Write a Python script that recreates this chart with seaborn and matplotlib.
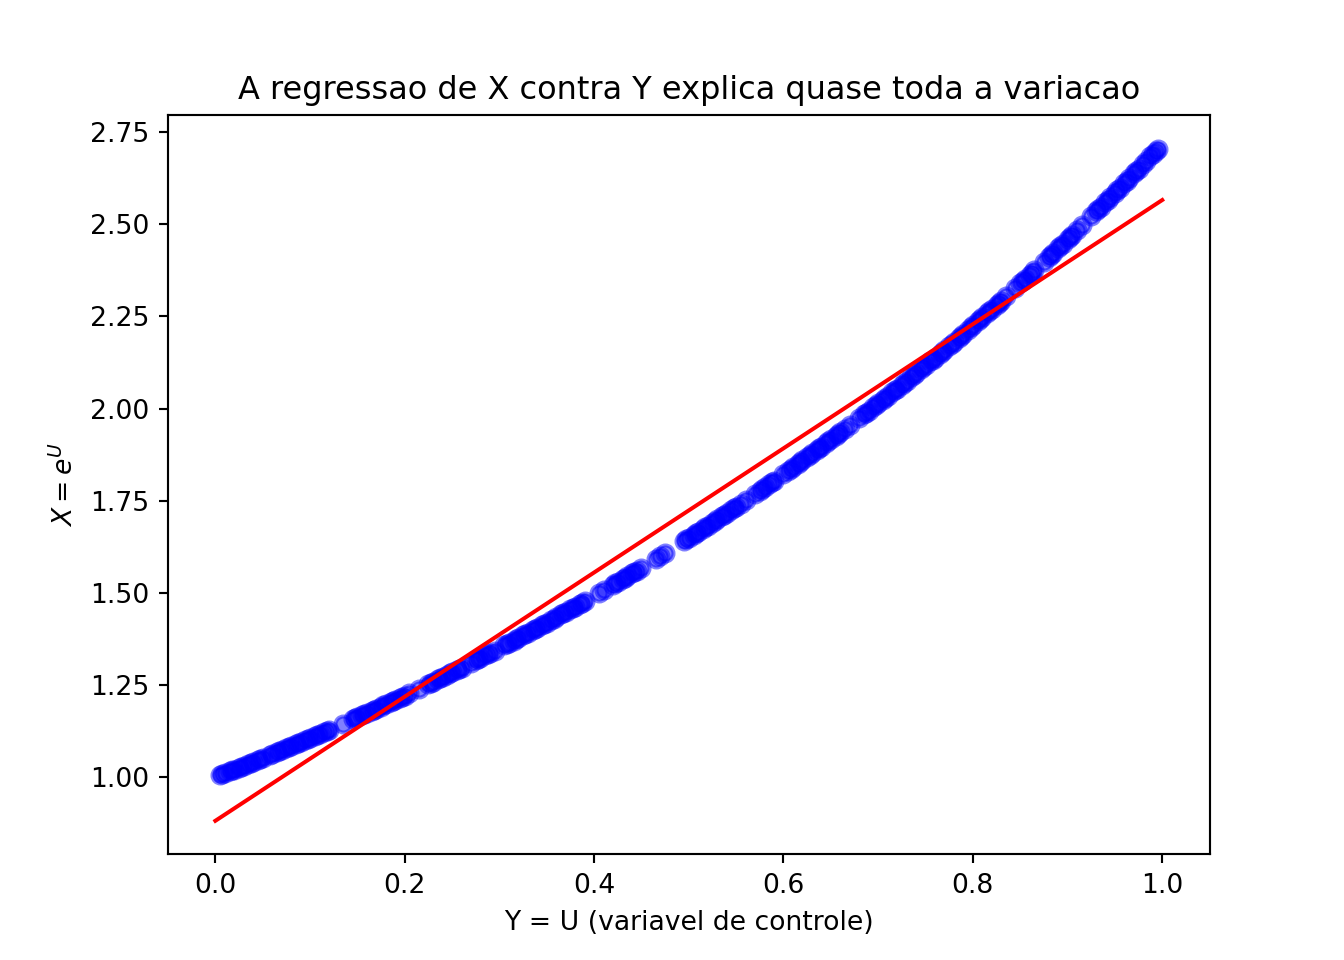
import matplotlib
matplotlib.use("Agg")
import matplotlib.pyplot as plt
import seaborn as sns

# control variable U
u_vals = [0.005, 0.01, 0.015, 0.02, 0.025, 0.03, 0.035, 0.04, 0.045, 0.05,
          0.06, 0.065, 0.07, 0.075, 0.08, 0.085, 0.09, 0.095, 0.10, 0.105,
          0.11, 0.115, 0.12, 0.135, 0.145, 0.15, 0.155, 0.16, 0.165, 0.17,
          0.175, 0.18, 0.185, 0.19, 0.195, 0.20, 0.205, 0.215, 0.225, 0.23,
          0.235, 0.24, 0.245, 0.25, 0.255, 0.26, 0.27, 0.275, 0.28, 0.285,
          0.29, 0.295, 0.305, 0.31, 0.315, 0.32, 0.325, 0.33, 0.335, 0.34,
          0.345, 0.35, 0.355, 0.36, 0.365, 0.37, 0.375, 0.38, 0.385, 0.39,
          0.405, 0.41, 0.42, 0.425, 0.43, 0.435, 0.44, 0.445, 0.45, 0.465,
          0.47, 0.475, 0.495, 0.50, 0.505, 0.51, 0.515, 0.52, 0.525, 0.53,
          0.535, 0.54, 0.545, 0.55, 0.555, 0.56, 0.57, 0.575, 0.58, 0.585,
          0.59, 0.60, 0.605, 0.61, 0.615, 0.62, 0.625, 0.63, 0.635, 0.64,
          0.645, 0.65, 0.655, 0.66, 0.665, 0.67, 0.68, 0.685, 0.69, 0.695,
          0.70, 0.705, 0.71, 0.715, 0.72, 0.725, 0.73, 0.735, 0.74, 0.745,
          0.75, 0.755, 0.76, 0.765, 0.77, 0.775, 0.78, 0.785, 0.79, 0.795,
          0.80, 0.805, 0.81, 0.815, 0.82, 0.825, 0.83, 0.835, 0.845, 0.85,
          0.855, 0.86, 0.865, 0.875, 0.88, 0.885, 0.89, 0.895, 0.90, 0.905,
          0.91, 0.915, 0.925, 0.93, 0.935, 0.94, 0.945, 0.95, 0.955, 0.96,
          0.965, 0.97, 0.975, 0.98, 0.99, 0.993, 0.995]

# X values
x_vals = [1.005, 1.010, 1.015, 1.020, 1.025, 1.030, 1.036, 1.041, 1.046, 1.051,
          1.062, 1.067, 1.073, 1.078, 1.083, 1.089, 1.094, 1.100, 1.105, 1.111,
          1.116, 1.122, 1.127, 1.145, 1.156, 1.162, 1.168, 1.174, 1.179, 1.185,
          1.191, 1.197, 1.203, 1.209, 1.215, 1.221, 1.228, 1.240, 1.252, 1.259,
          1.265, 1.271, 1.278, 1.284, 1.290, 1.297, 1.310, 1.317, 1.323, 1.330,
          1.336, 1.343, 1.357, 1.363, 1.370, 1.377, 1.384, 1.391, 1.398, 1.405,
          1.412, 1.419, 1.426, 1.433, 1.441, 1.448, 1.455, 1.462, 1.470, 1.477,
          1.499, 1.507, 1.522, 1.530, 1.537, 1.545, 1.553, 1.560, 1.568, 1.592,
          1.600, 1.608, 1.640, 1.649, 1.657, 1.665, 1.674, 1.682, 1.690, 1.699,
          1.707, 1.716, 1.725, 1.733, 1.742, 1.751, 1.768, 1.777, 1.786, 1.795,
          1.804, 1.822, 1.831, 1.840, 1.850, 1.859, 1.868, 1.878, 1.887, 1.896,
          1.906, 1.916, 1.925, 1.935, 1.944, 1.954, 1.974, 1.984, 1.994, 2.004,
          2.014, 2.024, 2.034, 2.044, 2.054, 2.065, 2.075, 2.086, 2.096, 2.106,
          2.117, 2.128, 2.138, 2.149, 2.160, 2.171, 2.181, 2.192, 2.203, 2.214,
          2.226, 2.237, 2.248, 2.259, 2.270, 2.282, 2.293, 2.305, 2.328, 2.340,
          2.351, 2.363, 2.375, 2.399, 2.411, 2.423, 2.435, 2.447, 2.460, 2.472,
          2.484, 2.497, 2.522, 2.535, 2.547, 2.560, 2.573, 2.586, 2.599, 2.612,
          2.625, 2.638, 2.651, 2.664, 2.691, 2.699, 2.705]

# more samples in the dense stretches of the band
u_extra = [0.0075, 0.0175, 0.0275, 0.0375, 0.0475, 0.0575, 0.0675, 0.0775,
           0.0875, 0.0975, 0.1075, 0.1175, 0.1475, 0.1575, 0.1675, 0.1775,
           0.1875, 0.1975, 0.2275, 0.2375, 0.2475, 0.2575, 0.2775, 0.2875,
           0.3075, 0.3175, 0.3275, 0.3375, 0.3475, 0.3575, 0.3675, 0.3775,
           0.3875, 0.4225, 0.4325, 0.4425, 0.4975, 0.5075, 0.5175, 0.5275,
           0.5375, 0.5475, 0.5775, 0.5875, 0.6075, 0.6175, 0.6275, 0.6375,
           0.6475, 0.6575, 0.6875, 0.6975, 0.7075, 0.7175, 0.7275, 0.7375,
           0.7475, 0.7575, 0.7675, 0.7775, 0.7875, 0.7975, 0.8075, 0.8175,
           0.8275, 0.8525, 0.8625, 0.8825, 0.8925, 0.9025, 0.9325, 0.9425,
           0.9525, 0.9625, 0.9725, 0.9825, 0.9875]

x_extra = [1.008, 1.018, 1.028, 1.038, 1.049, 1.059, 1.070, 1.081,
           1.091, 1.102, 1.114, 1.125, 1.159, 1.171, 1.182, 1.194,
           1.206, 1.218, 1.256, 1.268, 1.281, 1.294, 1.320, 1.333,
           1.360, 1.374, 1.388, 1.401, 1.416, 1.430, 1.444, 1.459,
           1.473, 1.526, 1.541, 1.557, 1.645, 1.661, 1.678, 1.695,
           1.712, 1.729, 1.782, 1.800, 1.836, 1.854, 1.873, 1.892,
           1.911, 1.930, 1.989, 2.009, 2.029, 2.049, 2.070, 2.091,
           2.112, 2.133, 2.154, 2.176, 2.198, 2.220, 2.242, 2.265,
           2.287, 2.345, 2.369, 2.417, 2.441, 2.466, 2.541, 2.566,
           2.592, 2.618, 2.645, 2.671, 2.685]

# fitted regression line, end points
line_u = [0.0, 1.0]
line_x = [0.881, 2.566]

assert len(u_vals) == len(x_vals)
assert len(u_extra) == len(x_extra)

fig, ax = plt.subplots(figsize=(7, 5), dpi=192)

sns.scatterplot(x=u_vals + u_extra, y=x_vals + x_extra, color="blue",
                alpha=0.5, s=36, edgecolor="blue", linewidth=1.5, ax=ax)
sns.lineplot(x=line_u, y=line_x, color="red", linewidth=1.5, ax=ax)

ax.set_title("A regressao de X contra Y explica quase toda a variacao")
ax.set_xlabel("Y = U (variavel de controle)")
ax.set_ylabel(r"$X = e^U$")

fig.savefig("out.png", dpi=192)
